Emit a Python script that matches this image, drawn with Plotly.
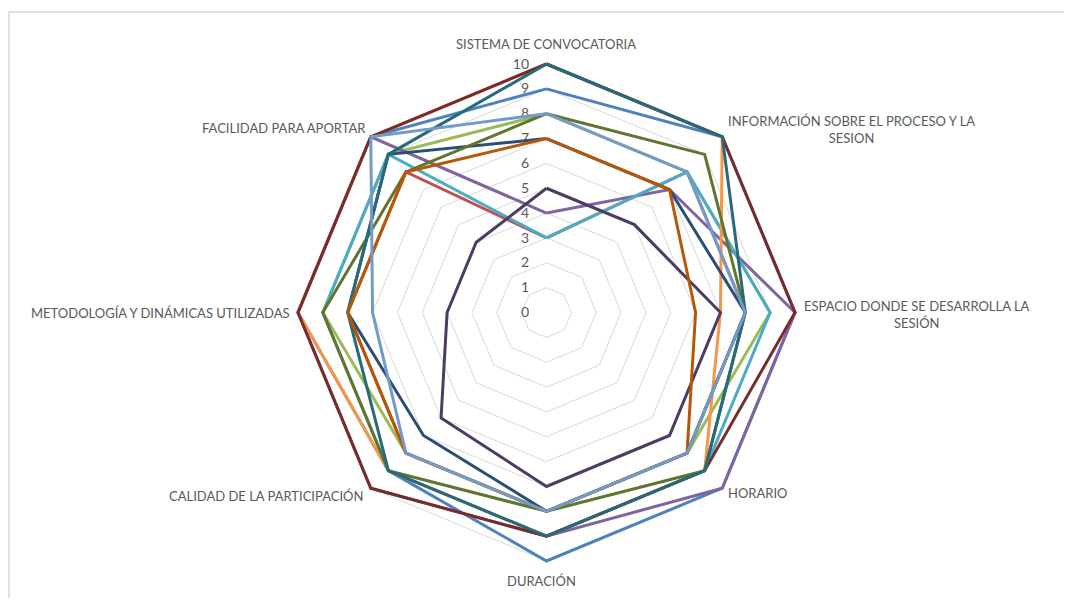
import plotly.graph_objects as go

categories = [
    "SISTEMA DE CONVOCATORIA",
    "INFORMACIÓN SOBRE EL PROCESO Y LA<br>SESION",
    "ESPACIO DONDE SE DESARROLLA LA<br>SESIÓN",
    "HORARIO",
    "DURACIÓN",
    "CALIDAD DE LA PARTICIPACIÓN",
    "METODOLOGÍA Y DINÁMICAS UTILIZADAS",
    "FACILIDAD PARA APORTAR",
]

serie_1 = [9, 10, 10, 10, 10, 9, 10, 10]
serie_2 = [3, 8, 8, 8, 8, 8, 8, 8]
serie_3 = [8, 8, 9, 8, 8, 8, 9, 9]
serie_4 = [4, 7, 10, 10, 9, 10, 10, 10]
serie_5 = [3, 8, 9, 9, 9, 9, 9, 9]
serie_6 = [10, 10, 7, 9, 9, 9, 10, 10]
serie_7 = [7, 7, 8, 8, 8, 7, 8, 9]
serie_8 = [10, 10, 10, 9, 9, 10, 10, 10]
serie_9 = [8, 9, 8, 9, 8, 9, 9, 8]
serie_10 = [5, 5, 7, 7, 7, 6, 4, 4]
serie_11 = [10, 10, 8, 9, 9, 9, 8, 9]
serie_12 = [7, 7, 6, 8, 8, 8, 8, 8]
serie_13 = [8, 8, 8, 8, 8, 8, 7, 10]

series = [serie_1, serie_2, serie_3, serie_4, serie_5, serie_6, serie_7,
          serie_8, serie_9, serie_10, serie_11, serie_12, serie_13]
colors = ["#4F81BD", "#C0504D", "#9BBB59", "#8064A2", "#4BACC6", "#F79646",
          "#2C4D75", "#772C2A", "#5F7530", "#4D3B62", "#276A7C", "#B65708",
          "#729ACA"]
radial_ticks = list(range(0, 11))

# page body has an 8px margin, so the figure is drawn 8px in from the window edge
OFF = 8
W, H = 1072 - 2 * OFF, 606 - 2 * OFF
cx, cy, R10 = 546.5 - OFF, 312.5 - OFF, 248.5
RMAX = 10.25                      # a little headroom so lines at 10 are not clipped
R = R10 * RMAX / 10

fig = go.Figure()
for i, (vals, col) in enumerate(zip(series, colors)):
    fig.add_trace(go.Scatterpolar(
        r=vals + vals[:1],
        theta=categories + categories[:1],
        mode="lines",
        line=dict(color=col, width=3),
        name=f"Serie {i + 1}",
        showlegend=False,
        hoverinfo="skip",
        cliponaxis=False,
    ))

grid = "#D9D9D9"
font_family = "Lato, 'Open Sans', sans-serif"
fig.update_layout(
    width=W, height=H,
    margin=dict(l=0, r=0, t=0, b=0),
    paper_bgcolor="white",
    plot_bgcolor="white",
    showlegend=False,
    font=dict(family=font_family, color="#595959", size=13),
    polar=dict(
        domain=dict(x=[(cx - R) / W, (cx + R) / W],
                    y=[(H - cy - R) / H, (H - cy + R) / H]),
        bgcolor="white",
        gridshape="linear",
        radialaxis=dict(
            range=[0, RMAX],
            tickvals=radial_ticks,
            ticktext=[str(t) for t in radial_ticks],
            angle=90,
            tickangle=90,
            side="counterclockwise",
            showline=False,
            ticks="outside",
            ticklen=12,
            tickcolor="rgba(0,0,0,0)",
            gridcolor=grid,
            gridwidth=1,
            layer="below traces",
            tickfont=dict(size=14, color="#595959", family=font_family),
        ),
        angularaxis=dict(
            direction="clockwise",
            rotation=90,
            showgrid=False,
            showline=False,
            ticks="",
            showticklabels=False,
            layer="below traces",
        ),
    ),
)

# category labels (reference pixel positions)
label_pos = [
    (546, 44),
    (851, 130),
    (917, 314),
    (757, 493),
    (541, 581),
    (266, 496),
    (160, 313),
    (284, 128),
]
for text, (x, y) in zip(categories, label_pos):
    fig.add_annotation(
        x=(x - OFF) / W, y=1 - (y - OFF) / H, xref="paper", yref="paper",
        text=text, showarrow=False, align="center",
        xanchor="center", yanchor="middle",
        font=dict(size=13, color="#595959", family=font_family),
    )

# chart border (top and left edges visible)
fig.add_shape(type="rect", xref="paper", yref="paper",
              x0=1 / W, x1=1.02, y0=-0.02, y1=1 - (12 - OFF) / H,
              line=dict(color=grid, width=1.5), fillcolor="rgba(0,0,0,0)")

fig.write_html("out.html")
